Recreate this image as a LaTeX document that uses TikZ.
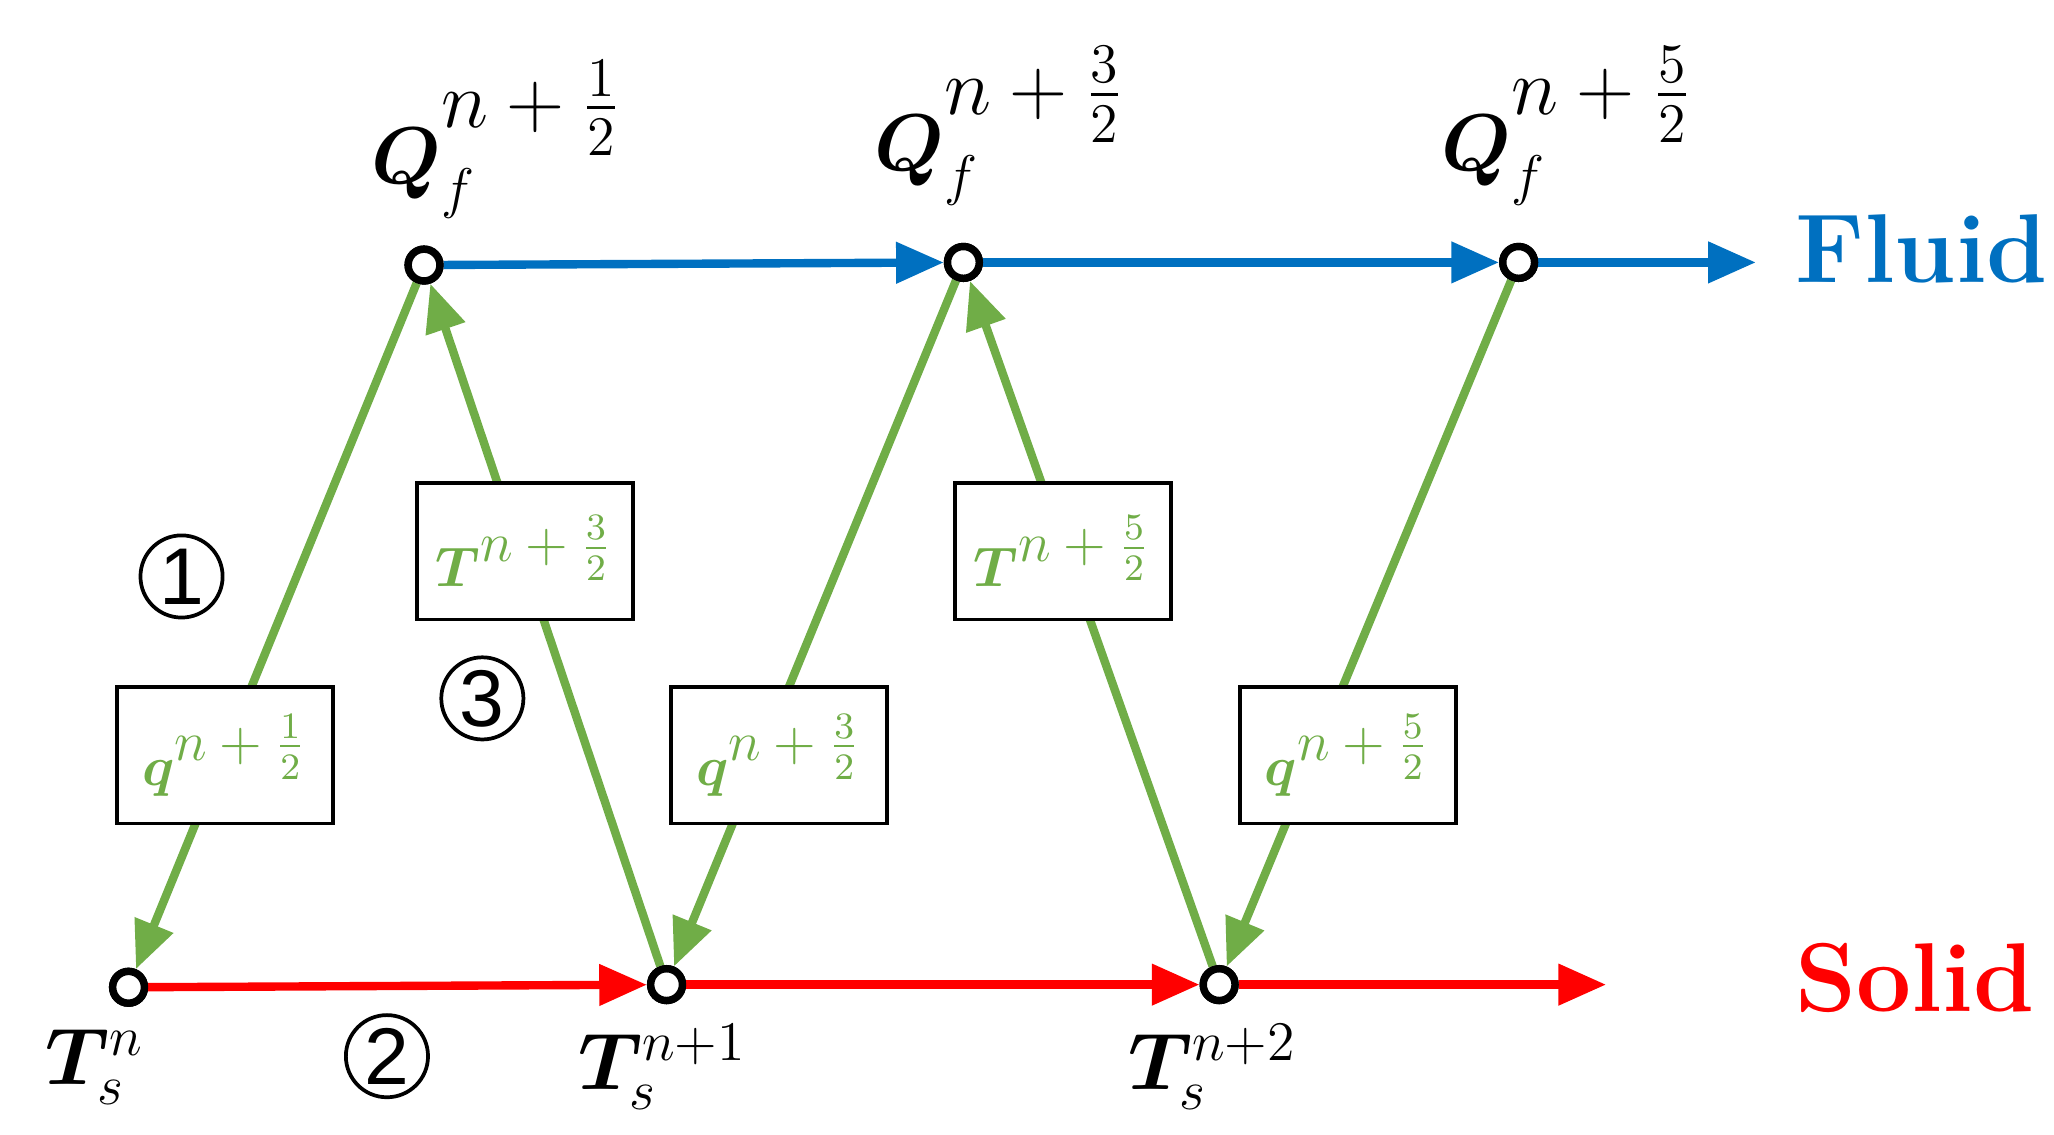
\documentclass[tikz,border=0pt]{standalone}
\usepackage{amsmath,bm}
\usepackage{fontspec}
\newfontfamily\circfont{Liberation Sans}
\usetikzlibrary{arrows.meta}
\definecolor{fgreen}{RGB}{112,173,71}
\definecolor{fblue}{RGB}{0,112,192}
\newcommand{\hexp}[1]{^{\textstyle n+\frac{#1}{2}}}
\begin{document}
\begin{tikzpicture}[x=1cm,y=-1cm,
    >={Triangle[length=0.36cm,width=0.3cm]},
    pt/.style={circle, draw, fill=white, line width=1.6pt, inner sep=0pt, minimum size=0.24cm},
    flow/.style={line width=1.8pt},
    link/.style={fgreen, line width=1.8pt},
    val/.style={draw, fill=white, line width=0.8pt, minimum width=1.63cm, minimum height=1.03cm, text=fgreen, font=\large},
    stepno/.style={circle, draw, line width=0.8pt, minimum size=0.62cm, inner sep=0pt, font=\circfont\LARGE},
    lbl/.style={font=\LARGE},
    side/.style={font=\bfseries\fontsize{21}{24}\selectfont}]
  \useasboundingbox (0,0) rectangle (15.5,8.56);
  % fluid and solid levels
  \node [pt] (F1) at (3.20,2.00) {};
  \node [pt] (F2) at (7.27,1.98) {};
  \node [pt] (F3) at (11.46,1.98) {};
  \coordinate (Fend) at (13.25,1.98);
  \node [pt] (S1) at (0.97,7.45) {};
  \node [pt] (S2) at (5.03,7.43) {};
  \node [pt] (S3) at (9.20,7.43) {};
  \coordinate (Send) at (12.12,7.43);

  \draw [link,->] (F1) -- (S1);
  \draw [link,->] (S2) -- (F1);
  \draw [link,->] (F2) -- (S2);
  \draw [link,->] (S3) -- (F2);
  \draw [link,->] (F3) -- (S3);

  \draw [flow, fblue, ->] (F1) -- (F2);
  \draw [flow, fblue, ->] (F2) -- (F3);
  \draw [flow, fblue, ->] (F3) -- (Fend);
  \draw [flow, red, ->] (S1) -- (S2);
  \draw [flow, red, ->] (S2) -- (S3);
  \draw [flow, red, ->] (S3) -- (Send);
  \foreach \p in {F1,F2,F3,S1,S2,S3} \node [pt] at (\p) {};

  % exchanged values
  \node [val] (q1) at (1.70,5.70) {$\bm{q}\hexp{1}$};
  \node [val] (t1) at (3.96,4.16) {$\bm{T}\hexp{3}$};
  \node [val] (q2) at (5.88,5.70) {$\bm{q}\hexp{3}$};
  \node [val] (t2) at (8.02,4.16) {$\bm{T}\hexp{5}$};
  \node [val] (q3) at (10.17,5.70) {$\bm{q}\hexp{5}$};

  \node [stepno] (c1) at (1.37,4.35) {1};
  \node [stepno] (c3) at (3.64,5.27) {3};
  \node [stepno] (c2) at (2.92,7.97) {2};

  \node [lbl] (QA) at (3.75,1.05) {$\bm{Q}_f\hexp{1}$};
  \node [lbl] (QB) at (7.55,0.95) {$\bm{Q}_f\hexp{3}$};
  \node [lbl] (QC) at (11.83,0.95) {$\bm{Q}_f\hexp{5}$};
  \node [lbl] (TA) at (0.72,8.05) {$\bm{T}_s^{n}$};
  \node [lbl] (TB) at (5.00,8.05) {$\bm{T}_s^{n+1}$};
  \node [lbl] (TC) at (9.15,8.05) {$\bm{T}_s^{n+2}$};
  \node [side, text=fblue] (fl) at (14.50,1.88) {Fluid};
  \node [side, text=red] (so) at (14.45,7.38) {Solid};
\end{tikzpicture}
\end{document}
